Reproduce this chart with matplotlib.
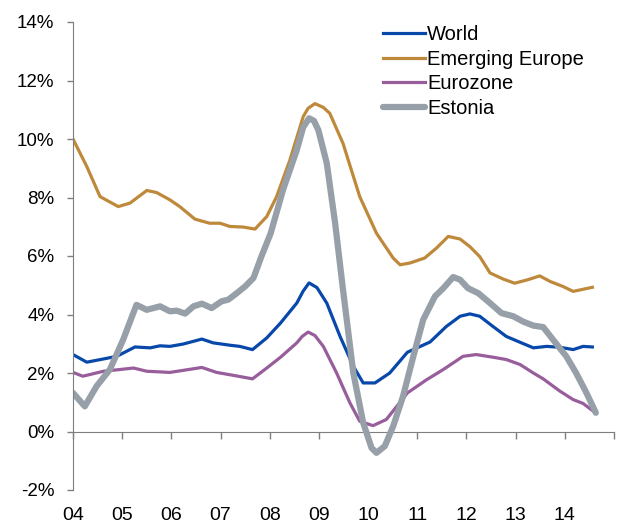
import matplotlib
matplotlib.use("Agg")
import matplotlib.pyplot as plt
from matplotlib.ticker import FuncFormatter

plt.rcParams["font.family"] = ["Liberation Sans", "DejaVu Sans"]

# values (fractional year, % yoy)
world_t = [2004.0, 2004.28, 2004.62, 2004.89, 2005.26, 2005.57, 2005.77, 2005.97, 2006.24,
           2006.62, 2006.85, 2007.19, 2007.39, 2007.65, 2007.94, 2008.22, 2008.55, 2008.68,
           2008.8, 2008.96, 2009.16, 2009.43, 2009.7, 2009.9, 2010.14, 2010.44, 2010.8,
           2011.26, 2011.59, 2011.87, 2012.07, 2012.27, 2012.54, 2012.81, 2013.09, 2013.36,
           2013.63, 2013.9, 2014.17, 2014.37, 2014.56]
world = [2.63, 2.37, 2.48, 2.57, 2.89, 2.86, 2.93, 2.91, 2.99,
         3.16, 3.03, 2.95, 2.91, 2.80, 3.20, 3.71, 4.39, 4.80,
         5.08, 4.92, 4.39, 3.25, 2.23, 1.66, 1.66, 2.00, 2.71,
         3.06, 3.59, 3.94, 4.02, 3.94, 3.59, 3.25, 3.05, 2.86,
         2.91, 2.88, 2.80, 2.91, 2.89]

emerging_t = [2004.0, 2004.28, 2004.55, 2004.92, 2005.16, 2005.5, 2005.7, 2005.97, 2006.17,
              2006.48, 2006.78, 2006.99, 2007.19, 2007.46, 2007.7, 2007.94, 2008.14, 2008.41,
              2008.68, 2008.78, 2008.92, 2009.09, 2009.22, 2009.49, 2009.83, 2010.17, 2010.51,
              2010.65, 2010.85, 2011.15, 2011.39, 2011.63, 2011.87, 2012.07, 2012.27, 2012.48,
              2012.75, 2012.98, 2013.25, 2013.49, 2013.7, 2013.96, 2014.17, 2014.56]
emerging = [10.0, 9.06, 8.03, 7.69, 7.81, 8.24, 8.17, 7.92, 7.69,
            7.26, 7.12, 7.12, 7.01, 6.99, 6.92, 7.35, 8.03, 9.28,
            10.76, 11.05, 11.21, 11.08, 10.88, 9.85, 8.03, 6.78, 5.93,
            5.70, 5.76, 5.93, 6.27, 6.67, 6.58, 6.32, 5.98, 5.42,
            5.21, 5.07, 5.19, 5.32, 5.13, 4.96, 4.79, 4.93]

eurozone_t = [2004.0, 2004.2, 2004.62, 2004.96, 2005.23, 2005.5, 2005.97, 2006.24, 2006.62,
              2006.92, 2007.26, 2007.65, 2007.94, 2008.22, 2008.55, 2008.66, 2008.78, 2008.92,
              2009.09, 2009.36, 2009.63, 2009.83, 2010.1, 2010.37, 2010.8, 2011.19, 2011.53,
              2011.93, 2012.2, 2012.54, 2012.81, 2013.09, 2013.36, 2013.56, 2013.9, 2014.17,
              2014.37, 2014.56]
eurozone = [2.02, 1.89, 2.06, 2.12, 2.17, 2.06, 2.02, 2.09, 2.19,
            2.02, 1.92, 1.80, 2.17, 2.54, 3.03, 3.25, 3.40, 3.28,
            2.91, 2.00, 0.98, 0.35, 0.20, 0.41, 1.32, 1.77, 2.12,
            2.57, 2.63, 2.54, 2.46, 2.29, 2.00, 1.80, 1.38, 1.09,
            0.96, 0.72]

estonia_t = [2004.0, 2004.24, 2004.48, 2004.75, 2005.02, 2005.29, 2005.5, 2005.77, 2005.97,
             2006.11, 2006.28, 2006.45, 2006.62, 2006.82, 2007.02, 2007.16, 2007.33, 2007.5,
             2007.67, 2007.83, 2008.02, 2008.27, 2008.55, 2008.68, 2008.8, 2008.9, 2008.99,
             2009.16, 2009.33, 2009.49, 2009.7, 2009.9, 2010.07, 2010.17, 2010.34, 2010.51,
             2010.71, 2010.92, 2011.12, 2011.36, 2011.53, 2011.73, 2011.87, 2012.03, 2012.24,
             2012.48, 2012.71, 2012.95, 2013.15, 2013.36, 2013.56, 2013.76, 2014.03, 2014.23,
             2014.44, 2014.63]
estonia = [1.32, 0.86, 1.55, 2.12, 3.14, 4.33, 4.16, 4.28, 4.11,
           4.13, 4.03, 4.28, 4.37, 4.22, 4.45, 4.51, 4.73, 4.96,
           5.25, 5.98, 6.78, 8.26, 9.62, 10.40, 10.71, 10.62, 10.30,
           9.17, 7.12, 4.85, 2.00, 0.30, -0.56, -0.73, -0.50, 0.18,
           1.20, 2.57, 3.82, 4.62, 4.90, 5.28, 5.19, 4.90, 4.73,
           4.39, 4.05, 3.94, 3.76, 3.62, 3.57, 3.14, 2.57, 2.00,
           1.32, 0.64]

year_ticks = list(range(2004, 2016))
year_labels = ["04", "05", "06", "07", "08", "09", "10", "11", "12", "13", "14", ""]

axis_grey = "#7f7f7f"

fig = plt.figure(figsize=(6.18, 5.23), dpi=100)
ax = fig.add_axes([73 / 618, 1 - 490 / 523, 541 / 618, 468 / 523])

ax.plot(world_t, world, color="#0848AA", lw=2.3, label="World")
ax.plot(emerging_t, emerging, color="#BF893B", lw=2.3, label="Emerging Europe")
ax.plot(eurozone_t, eurozone, color="#985D9B", lw=2.3, label="Eurozone")
ax.plot(estonia_t, estonia, color="#97A0A8", lw=4.5, label="Estonia", solid_capstyle="round")

ax.set_xlim(2004, 2015)
ax.set_ylim(-2, 14)
ax.set_yticks(range(-2, 15, 2))
ax.yaxis.set_major_formatter(FuncFormatter(lambda v, _: f"{v:.0f}%"))
ax.tick_params(axis="y", direction="out", length=4.5, width=1, color=axis_grey,
               pad=9, labelsize=13.5, labelcolor="black")

# labels along the bottom, zero line with ticks drawn by a secondary axis
ax.set_xticks(year_ticks)
ax.set_xticklabels(year_labels)
ax.tick_params(axis="x", length=0, pad=12, labelsize=14)

zero_axis = ax.secondary_xaxis(2 / 16)
zero_axis.set_xticks(year_ticks)
zero_axis.set_xticklabels([])
zero_axis.tick_params(axis="x", direction="out", length=5, width=1, color=axis_grey)
zero_axis.spines["bottom"].set_color(axis_grey)

for side in ("top", "right", "bottom"):
    ax.spines[side].set_visible(False)
ax.spines["left"].set_color(axis_grey)

ax.legend(loc="upper left", bbox_to_anchor=(0.573, 0.993), frameon=False, fontsize=14.5,
          borderpad=0, borderaxespad=0, handlelength=2.1, handletextpad=0.1,
          labelspacing=0.27)

fig.savefig("out.png", dpi=100)
